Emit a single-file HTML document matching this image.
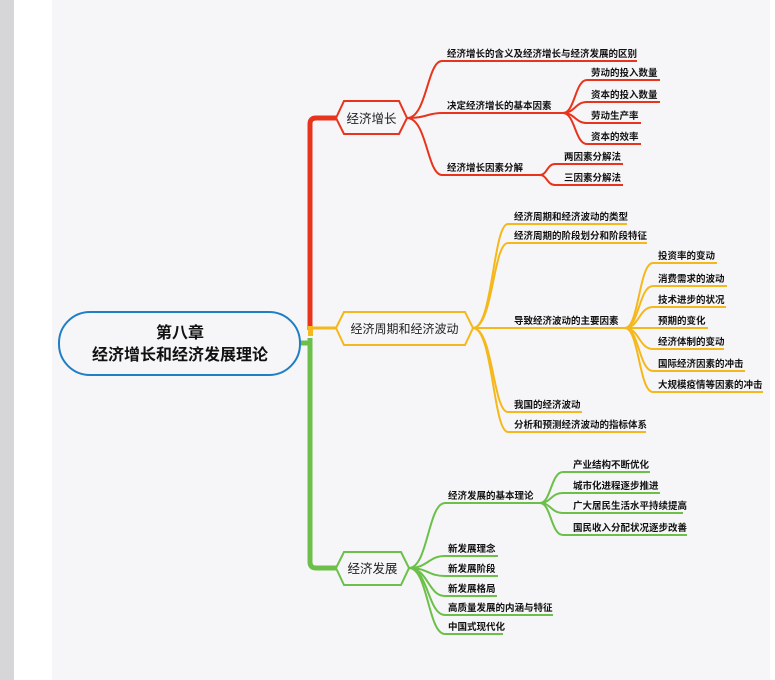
<!DOCTYPE html>
<html><head><meta charset="utf-8"><style>
html,body{margin:0;padding:0;width:775px;height:680px;overflow:hidden;background:#fff}
svg{display:block}
text{font-family:"Liberation Sans","Noto Sans CJK SC",sans-serif}
.l{font-size:9.5px;font-weight:bold;fill:#111}
</style></head><body>
<svg width="775" height="680" viewBox="0 0 775 680" xmlns="http://www.w3.org/2000/svg">
<rect x="0" y="0" width="14" height="680" fill="#d6d6d8"/>
<rect x="52" y="0" width="718" height="680" fill="#f6f6f8"/>

<!-- trunk -->
<path d="M336 118 H316 Q310 118 310 124 V330" stroke="#e8341c" stroke-width="5" fill="none"/>
<path d="M310 328 H336" stroke="#f5b81c" stroke-width="3" fill="none"/>
<rect x="308" y="326" width="5" height="10" fill="#f5b81c"/>
<path d="M300 343 H310 M310 338 V562 Q310 568 316 568 H336" stroke="#6cc04a" stroke-width="5" fill="none"/>

<!-- root -->
<rect x="59" y="312" width="241" height="63" rx="31" fill="#f6f6f8" stroke="#1f7fc4" stroke-width="2"/>
<text x="180" y="338" text-anchor="middle" font-size="16" font-weight="bold" fill="#111">第八章</text>
<text x="180" y="360" text-anchor="middle" font-size="16" font-weight="bold" fill="#111">经济增长和经济发展理论</text>

<!-- hexagons -->
<polygon points="336,118 344,101 399,101 407,118 399,134 344,134" fill="#f6f6f8" stroke="#e8341c" stroke-width="2"/>
<text x="371.5" y="123" text-anchor="middle" font-size="12.5" fill="#222">经济增长</text>
<polygon points="336,328 344,312 465,312 473,328 465,345 344,345" fill="#f6f6f8" stroke="#f5b81c" stroke-width="2"/>
<text x="404.5" y="333" text-anchor="middle" font-size="12" fill="#222">经济周期和经济波动</text>
<polygon points="336,568 344,552 401,552 409,568 401,585 344,585" fill="#f6f6f8" stroke="#6cc04a" stroke-width="2"/>
<text x="372.5" y="573" text-anchor="middle" font-size="12.5" fill="#222">经济发展</text>

<!-- red branches -->
<g stroke="#e8341c" stroke-width="2" fill="none">
<path d="M407 118 C427 118,427 61,442 61 H637"/>
<path d="M407 118 C427 118,427 113,442 113 H563"/>
<path d="M407 118 C427 118,427 175,442 175 H540"/>
<path d="M563 113 C575 113,575 80,587 80 H660"/>
<path d="M563 113 C575 113,575 102,587 102 H660"/>
<path d="M563 113 C575 113,575 123,587 123 H641"/>
<path d="M563 113 C575 113,575 144,587 144 H641"/>
<path d="M540 175 C547 175,547 164,555 164 H623"/>
<path d="M540 175 C547 175,547 185,555 185 H623"/>
</g>
<text class="l" x="447" y="57">经济增长的含义及经济增长与经济发展的区别</text>
<text class="l" x="447" y="109">决定经济增长的基本因素</text>
<text class="l" x="447" y="171">经济增长因素分解</text>
<text class="l" x="591" y="76">劳动的投入数量</text>
<text class="l" x="591" y="98">资本的投入数量</text>
<text class="l" x="591" y="119">劳动生产率</text>
<text class="l" x="591" y="140">资本的效率</text>
<text class="l" x="564" y="160">两因素分解法</text>
<text class="l" x="564" y="181">三因素分解法</text>

<!-- yellow branches -->
<g stroke="#f5b81c" stroke-width="2" fill="none">
<path d="M473 328 C493 328,493 224,508 224 H627"/>
<path d="M473 328 C493 328,493 243,508 243 H647"/>
<path d="M473 328 H625"/>
<path d="M473 328 C493 328,493 412,508 412 H582"/>
<path d="M473 328 C493 328,493 432,508 432 H646"/>
<path d="M625 328 C639 328,639 263,653 263 H717"/>
<path d="M625 328 C639 328,639 286,653 286 H727"/>
<path d="M625 328 C639 328,639 307,653 307 H726"/>
<path d="M625 328 H708"/>
<path d="M625 328 C639 328,639 349,653 349 H724"/>
<path d="M625 328 C639 328,639 371,653 371 H745"/>
<path d="M625 328 C639 328,639 392,653 392 H763"/>
</g>
<text class="l" x="514" y="220">经济周期和经济波动的类型</text>
<text class="l" x="514" y="239">经济周期的阶段划分和阶段特征</text>
<text class="l" x="514" y="324">导致经济波动的主要因素</text>
<text class="l" x="514" y="408">我国的经济波动</text>
<text class="l" x="514" y="428">分析和预测经济波动的指标体系</text>
<text class="l" x="658" y="259">投资率的变动</text>
<text class="l" x="658" y="282">消费需求的波动</text>
<text class="l" x="658" y="303">技术进步的状况</text>
<text class="l" x="658" y="324">预期的变化</text>
<text class="l" x="658" y="345">经济体制的变动</text>
<text class="l" x="658" y="367">国际经济因素的冲击</text>
<text class="l" x="658" y="388">大规模疫情等因素的冲击</text>

<!-- green branches -->
<g stroke="#6cc04a" stroke-width="2" fill="none">
<path d="M409 568 C428 568,428 503,445 503 H540"/>
<path d="M409 568 C428 568,428 556,445 556 H498"/>
<path d="M409 568 C428 568,428 576,445 576 H498"/>
<path d="M409 568 C428 568,428 596,445 596 H497"/>
<path d="M409 568 C428 568,428 615,445 615 H553"/>
<path d="M409 568 C428 568,428 634,445 634 H503"/>
<path d="M540 503 C551 503,551 472,563 472 H650"/>
<path d="M540 503 C551 503,551 493,563 493 H660"/>
<path d="M540 503 C551 503,551 513,563 513 H683"/>
<path d="M540 503 C551 503,551 535,563 535 H687"/>
</g>
<text class="l" x="448" y="499">经济发展的基本理论</text>
<text class="l" x="448" y="552">新发展理念</text>
<text class="l" x="448" y="572">新发展阶段</text>
<text class="l" x="448" y="592">新发展格局</text>
<text class="l" x="448" y="611">高质量发展的内涵与特征</text>
<text class="l" x="448" y="630">中国式现代化</text>
<text class="l" x="573" y="468">产业结构不断优化</text>
<text class="l" x="573" y="489">城市化进程逐步推进</text>
<text class="l" x="573" y="509">广大居民生活水平持续提高</text>
<text class="l" x="573" y="531">国民收入分配状况逐步改善</text>
</svg>
</body></html>
